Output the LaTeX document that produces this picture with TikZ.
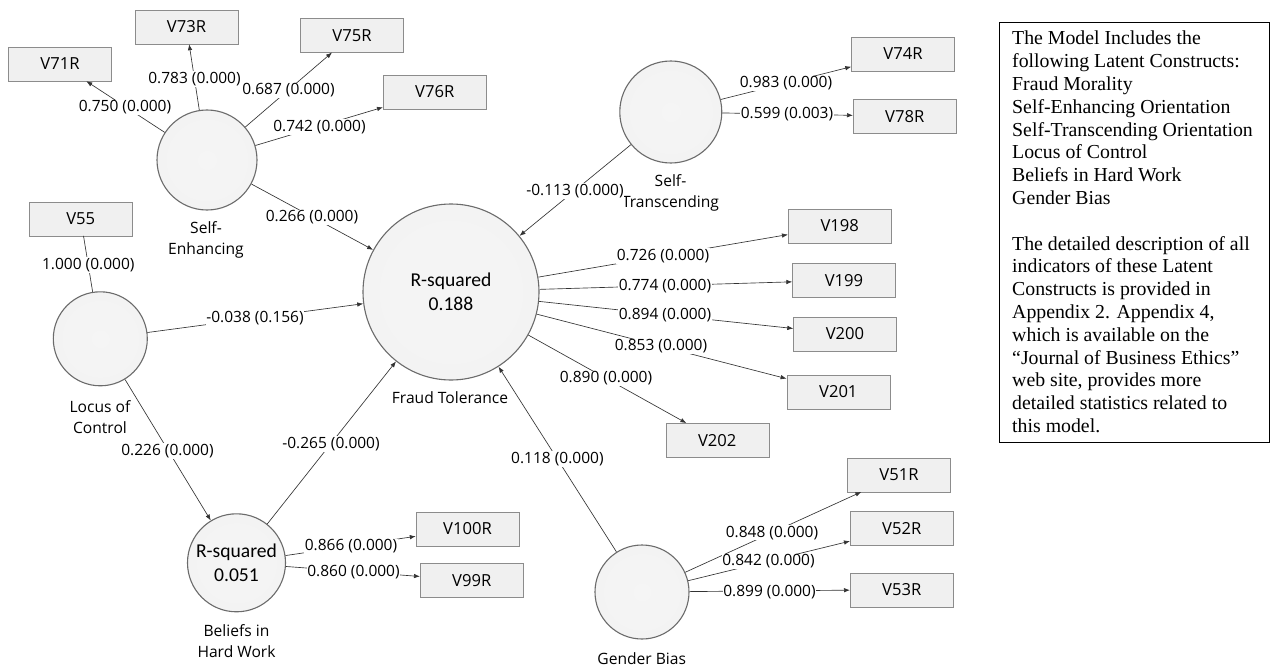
\documentclass[tikz,border=0pt]{standalone}
\usepackage{fontspec}
\setmainfont{Liberation Serif}
\newfontfamily\lblfont{Open Sans}
\newfontfamily\rsqfont{Carlito}
\usetikzlibrary{arrows.meta}
\pgfdeclareradialshading{lvball}{\pgfpoint{0bp}{0bp}}{color(0bp)=(white!96!black); color(40bp)=(white!95!black); color(45.5bp)=(white!88!black); color(48.5bp)=(white!72!black); color(50bp)=(white!52!black)}
\tikzset{
  lv/.style={circle, shade, shading=lvball, draw=black!58, line width=1.1pt, minimum size=#1, inner sep=0pt, align=center, font=\rsqfont\fontsize{19.6}{23.6}\selectfont},
  ind/.style={rectangle, draw=black!45, fill=black!6, minimum width=103pt, minimum height=34pt, inner sep=0pt, font=\lblfont\fontsize{16.6}{18}\selectfont},
  lbl/.style={fill=white, inner sep=0.8pt, font=\lblfont\fontsize{15.5}{17}\selectfont},
  lvcap/.style={align=center, inner sep=0pt, font=\lblfont\fontsize{15.6}{21}\selectfont},
  conn/.style={draw=black!80, line width=0.65pt, -{Latex[length=6pt,width=4.5pt]}},
  plain/.style={draw=black!80, line width=0.65pt}
}
\begin{document}
\begin{tikzpicture}[x=1pt,y=-1pt]
\useasboundingbox (0,0) rectangle (1270,669);
\fill[white] (0,0) rectangle (1270,669);
% latent variables
\node[lv=100pt] (se) at (207,160) {};
\node[lv=102pt] (st) at (670.8,112) {};
\node[lv=94pt]  (lc) at (100.3,338.8) {};
\node[lv=98pt]  (bh) at (236.5,562.8) {R-squared\\0.051};
\node[lv=94pt]  (gb) at (642,592) {};
\node[lv=176pt] (ft) at (451,292) {R-squared\\0.188};
% captions
\node[lvcap] (cse) at (206,239.5) {Self-\\Enhancing};
\node[lvcap] (cst) at (670.5,193.4) {Self-\\Transcending};
\node[lvcap] (clc) at (100,416.7) {Locus of\\Control};
\node[lvcap] (cbh) at (236.5,641.2) {Beliefs in\\Hard Work};
\node[lvcap] (cgb) at (641.7,659) {Gender Bias};
\node[lvcap] (cft) at (450,398) {Fraud Tolerance};
% indicators
\node[ind] (v71r) at (60,64) {V71R};
\node[ind] (v73r) at (186.5,27) {V73R};
\node[ind] (v75r) at (352,35.3) {V75R};
\node[ind] (v76r) at (434.7,91.8) {V76R};
\node[ind] (v55) at (80.7,218.7) {V55};
\node[ind] (v74r) at (903,53.8) {V74R};
\node[ind] (v78r) at (904.7,116.3) {V78R};
\node[ind] (v198) at (839.7,225.8) {V198};
\node[ind] (v199) at (844,280.3) {V199};
\node[ind] (v200) at (845,334) {V200};
\node[ind] (v201) at (838.3,392) {V201};
\node[ind] (v202) at (717.2,440.3) {V202};
\node[ind] (v51r) at (899,474.7) {V51R};
\node[ind] (v52r) at (901.7,528.5) {V52R};
\node[ind] (v53r) at (901.7,589.7) {V53R};
\node[ind] (v100r) at (467.5,528.7) {V100R};
\node[ind] (v99r) at (471.7,580.3) {V99R};
% connectors
\draw[conn] (se) -- (v71r);
\draw[conn] (se) -- (v73r);
\draw[conn] (se) -- (v75r);
\draw[conn] (se) -- (v76r);
\draw[conn] (se) -- (ft);
\draw[plain] (lc) -- (v55);
\draw[conn] (lc) -- (ft);
\draw[conn] (lc) -- (bh);
\draw[conn] (bh) -- (ft);
\draw[conn] (bh) -- (v100r);
\draw[conn] (bh) -- (v99r);
\draw[conn] (st) -- (ft);
\draw[conn] (st) -- (v74r);
\draw[conn] (st) -- (v78r);
\draw[conn] (ft) -- (v198);
\draw[conn] (ft) -- (v199);
\draw[conn] (ft) -- (v200);
\draw[conn] (ft) -- (v201);
\draw[conn] (ft) -- (v202);
\draw[conn] (gb) -- (ft);
\draw[conn] (gb) -- (v51r);
\draw[conn] (gb) -- (v52r);
\draw[conn] (gb) -- (v53r);
% path labels
\node[lbl] (l71) at (125,107.5) {0.750 (0.000)};
\node[lbl] (l73) at (194.5,79) {0.783 (0.000)};
\node[lbl] (l75) at (288.5,90.5) {0.687 (0.000)};
\node[lbl] (l76) at (319.5,127) {0.742 (0.000)};
\node[lbl] (lseft) at (312,217.5) {0.266 (0.000)};
\node[lbl] (l55) at (88.3,265) {1.000 (0.000)};
\node[lbl] (llcft) at (255,318.5) {-0.038 (0.156)};
\node[lbl] (llcbh) at (167.5,451) {0.226 (0.000)};
\node[lbl] (lbhft) at (331,444) {-0.265 (0.000)};
\node[lbl] (l100) at (351,546.5) {0.866 (0.000)};
\node[lbl] (l99) at (353.5,571.8) {0.860 (0.000)};
\node[lbl] (lstft) at (575,191) {-0.113 (0.000)};
\node[lbl] (l74) at (786,83.5) {0.983 (0.000)};
\node[lbl] (l78) at (787,114.2) {0.599 (0.003)};
\node[lbl] (l198) at (663,256) {0.726 (0.000)};
\node[lbl] (l199) at (665,285.8) {0.774 (0.000)};
\node[lbl] (l200) at (665,315) {0.894 (0.000)};
\node[lbl] (l201) at (661,346.5) {0.853 (0.000)};
\node[lbl] (l202) at (606,378.5) {0.890 (0.000)};
\node[lbl] (lgbft) at (557.4,459) {0.118 (0.000)};
\node[lbl] (l51) at (772,532.8) {0.848 (0.000)};
\node[lbl] (l52) at (768.5,561.5) {0.842 (0.000)};
\node[lbl] (l53) at (769.5,592) {0.899 (0.000)};
% text box
\node[draw=black, line width=0.8pt, anchor=north west, minimum width=270pt, minimum height=420pt, inner sep=0pt] (tb) at (999,22) {};
\node[anchor=north west, inner sep=0pt, align=left, font=\fontsize{19.8}{22.8}\selectfont] (tbt) at (1012,31) {The Model Includes the\\
following Latent Constructs:\\
Fraud Morality\\
Self-Enhancing Orientation\\
Self-Transcending Orientation\\
Locus of Control\\
Beliefs in Hard Work\\
Gender Bias\\[22.8pt]
The detailed description of all\\
indicators of these Latent\\
Constructs is provided in\\
Appendix 2. Appendix 4,\\
which is available on the\\
“Journal of Business Ethics”\\
web site, provides more\\
detailed statistics related to\\
this model.};
\end{tikzpicture}
\end{document}
